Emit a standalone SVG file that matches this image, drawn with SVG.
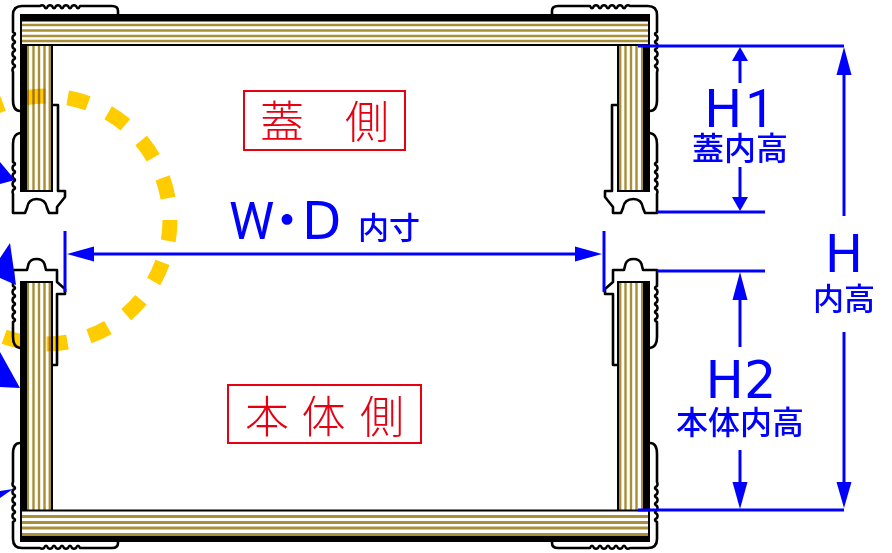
<svg xmlns="http://www.w3.org/2000/svg" width="892" height="553" viewBox="0 0 892 553">
<style>
.o{fill:none;stroke:#000;stroke-width:2.6;stroke-linejoin:round;stroke-linecap:round}
.g{fill:none;stroke:#a98f38}
.b{fill:none;stroke:#00f;stroke-width:3}
.bt{fill:#00f;font-family:"DejaVu Sans","Noto Sans CJK JP",sans-serif;text-anchor:middle}
.cj{fill:#00f;font-family:"Noto Sans CJK JP",sans-serif;text-anchor:middle;font-weight:500}
.rt{fill:#e60012;font-family:"Noto Sans CJK JP",sans-serif;font-size:44px;font-weight:300;text-anchor:middle}
.rb{fill:#fff;stroke:#e60012;stroke-width:2}
.ar{fill:#00f}
</style>
<defs>
<path id="corner" class="o" d="M118,14V11Q118,6 112,6H80q-2,4.500 -4,0q-2,-1.500 -4,0q-2,4.500 -4,0q-2,-1.500 -4,0q-2,4.500 -4,0q-2,-1.500 -4,0q-2,4.500 -4,0q-2,-1.500 -4,0q-2,4.500 -4,0q-2,-1.500 -4,0H22Q13,6 13,15V32q4,2 0,4q-1,2 0,4q4,2 0,4q-1,2 0,4q4,2 0,4q-1,2 0,4q4,2 0,4q-1,2 0,4q4,2 0,4q-1,2 0,4V100Q13,111 20,111"/>
<g id="coverSide">
<path class="o" d="M20,133Q13,134 13,144V162q4,2 0,4q-1,2 0,4q4,2 0,4q-1,2 0,4q4,2 0,4q-1,2 0,4q4,2 0,4q-1,2 0,4V213H25L27,208C28,201 32,199 36.500,199C41,199 46,201 47,208L49,213H57V207L65,197V191H58V105H53"/>
<rect x="27" y="46" width="24" height="145" fill="#fff"/>
<path class="g" stroke-width="2.400" d="M27.800,46V191M33.500,46V191M39,46V191M44.500,46V191M49.800,46V191"/>
<path fill="#000" d="M20,20H27V190H51V46H53V192H20Z"/>
</g>
<g id="bodySide">
<path class="o" d="M20,348Q13,347 13,337V322q4,-2 0,-4q-1,-2 0,-4q4,-2 0,-4q-1,-2 0,-4q4,-2 0,-4q-1,-2 0,-4q4,-2 0,-4q-1,-2 0,-4q4,-2 0,-4V270H27L28.500,264C30,260 33,259 36.500,259C40,259 43,260 44.500,264L46,270H57V282L65,289V294H57V365H53"/>
<rect x="27" y="283" width="24" height="227" fill="#fff"/>
<path class="g" stroke-width="2.400" d="M27.800,283V510M33.500,283V510M39,283V510M44.500,283V510M49.800,283V510"/>
<path fill="#000" d="M20,281H53V510H51V283H27V510H20Z"/>
</g>
</defs>

<g id="housing">
<use href="#corner"/>
<use href="#corner" transform="translate(670,0) scale(-1,1)"/>
<use href="#corner" transform="translate(0,554) scale(1,-1)"/>
<use href="#corner" transform="translate(670,554) scale(-1,-1)"/>
</g>
<g id="cover-left"><use href="#coverSide"/></g>
<g id="cover-right"><use href="#coverSide" transform="translate(670,0) scale(-1,1)"/></g>
<g id="body-left"><use href="#bodySide"/></g>
<g id="body-right"><use href="#bodySide" transform="translate(670,0) scale(-1,1)"/></g>

<g id="rail-top">
<rect x="20" y="14" width="630" height="32" fill="#000"/>
<rect x="22" y="21.500" width="626" height="22.500" fill="#fff"/>
<path class="g" stroke-width="2.600" d="M22,25H648M22,30.500H648M22,36H648M22,41H648"/>
</g>
<g id="rail-bottom">
<rect x="20" y="509.500" width="630" height="32.500" fill="#000"/>
<rect x="22" y="511.500" width="626" height="24.500" fill="#fff"/>
<path class="g" stroke-width="2.800" d="M22,516.500H648M22,522.500H648M22,528H648M22,534.500H648"/>
</g>

<g id="swing" style="mix-blend-mode:multiply">
<circle cx="46" cy="220" r="124" fill="none" stroke="#fc0" stroke-width="15" stroke-dasharray="21 22.280"/>
</g>

<g id="label-cover"><rect class="rb" x="244" y="91" width="161" height="59"/>
<text class="rt" x="282" y="138">蓋</text><text class="rt" x="367" y="138">側</text></g>
<g id="label-body"><rect class="rb" x="228" y="385" width="193" height="58"/>
<text class="rt" x="267" y="433">本</text><text class="rt" x="323.500" y="433">体</text><text class="rt" x="382" y="433">側</text></g>

<g id="connectors">
<path class="b" d="M65,231V292M604,231V292M80,254H590"/>
<polygon class="ar" points="67,254 94,246.500 94,261.500"/><polygon class="ar" points="602,254 575,246.500 575,261.500"/>
<path class="b" d="M638,46H844M657,212H765M657,271H765M638,510H844"/>
<path class="b" d="M740,60V83M740,167V198M740,298V347M740,450V484M844,70V216M844,332V484"/>
<polygon class="ar" points="740,47 732,61 748,61"/><polygon class="ar" points="740,211 732,197 748,197"/>
<polygon class="ar" points="740,272 732.500,300 747.500,300"/><polygon class="ar" points="740,509 732.500,482 747.500,482"/>
<polygon class="ar" points="844,47 836.500,75 851.500,75"/><polygon class="ar" points="844,508 836.500,482 851.500,482"/>
<polygon class="ar" points="0,162 15,180 0,184"/>
<polygon class="ar" points="10,243 16,285 0,278 0,258"/>
<polygon class="ar" points="0,352 20,388 0,387"/>
<polygon class="ar" points="0,491 13,489 0,498"/>
</g>

<g id="dim-labels">
<text fill="#00f" y="239" font-size="51" font-family="'DejaVu Sans',sans-serif"><tspan x="229" font-family="Roboto,sans-serif">W</tspan><tspan x="261.500" font-family="'Noto Sans CJK JP',sans-serif">・</tspan><tspan x="302">D</tspan></text>
<text class="cj" x="389" y="239" font-size="31">内寸</text>
<text fill="#00f" x="704" y="127" font-size="51" font-family="'DejaVu Sans',sans-serif">H<tspan dx="3" font-family="Roboto,sans-serif" font-size="53">1</tspan></text>
<text class="cj" x="740" y="160" font-size="32">蓋内高</text>
<text class="bt" x="741" y="398" font-size="51">H2</text>
<text class="cj" x="740" y="434" font-size="32">本体内高</text>
<text class="bt" x="844" y="272" font-size="51">H</text>
<text class="cj" x="844" y="310" font-size="31">内高</text>
</g>
</svg>
